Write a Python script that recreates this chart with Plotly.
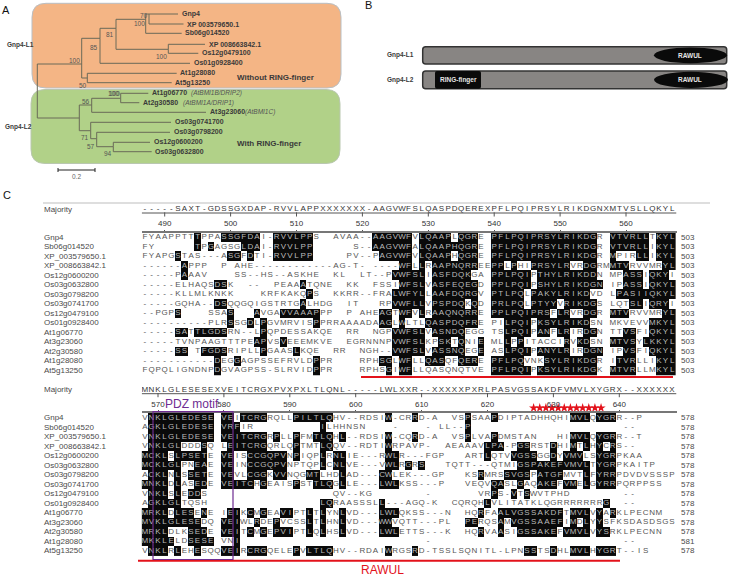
import numpy as np
import plotly.graph_objects as go

W, H = 729, 575

# ---------- DATA ----------
TREE_NODE = ["root","L1","L1a","L1b","L1c","L1d","Gnp4","XP 003579650.1","Sb06g014520","L1e","XP 008663842.1","Os12g0479100",
             "Os01g0928400","L1f","At1g28080","At5g13250","L2","L2a","L2b","At1g06770","At2g30580","At3g23060","L2c","Os03g0741700",
             "L2d","Os03g0798200","L2e","Os12g0600200","Os03g0632800"]
TREE_PARENT = [None,"root","L1","L1a","L1b","L1c","L1d","L1d","L1c","L1b","L1e","L1e",
               "L1a","L1","L1f","L1f","root","L2","L2a","L2b","L2b","L2a","L2","L2c",
               "L2c","L2d","L2d","L2e","L2e"]
TREE_X = [37.3,81.7,100,116,145.7,149,178,183.5,181.7,168.3,205,198.3,
          190,87.3,176.7,171.7,79.3,91.7,120.7,148.3,139.3,206,90.7,171,
          96.7,170,113.3,150,151.7]
TREE_Y = [88,64,38.3,28.3,19.3,14,14,24,33.3,49.3,44.3,53.3,
          63.3,78,73.3,82.7,118,105,98.3,93.3,102.7,112.3,130.7,122.3,
          138.7,132.3,146.7,142.3,151.7]
BOOTSTRAP = ["70","100","81","85","100","100","100","50","100","56","71","57","94"]
BOOT_X = [144,139,110,94,161,74,113.5,82.5,114,86,85,90.5,107.5]
BOOT_Y = [15.5,23,34,47,56,60.5,93.5,85,93.5,101.5,137.5,146.5,153.5]
LEAF_OFFSET_LABELS = {"At1g06770":"(AtBMI1B/DRIP2)","At2g30580":"(AtBMI1A/DRIP1)","At3g23060":"(AtBMI1C)"}

PROTEINS = ["Gnp4-L1","Gnp4-L2"]
PROTEIN_START = [422.7,422.7]
PROTEIN_END = [726.7,726.7]
PROTEIN_TOP = [46.7,71]
PROTEIN_BOTTOM = [64,88.7]
RAWUL_START = [654,654]
RAWUL_END = [727,728]
RING_START = 435
RING_END = 481

NAMES = ["Gnp4","Sb06g014520","XP_003579650.1","XP_008663842.1","Os12g0600200","Os03g0632800","Os03g0798200",
         "Os03g0741700","Os12g0479100","Os01g0928400","At1g06770","At3g23060","At2g30580","At1g28080","At5g13250"]
MAJORITY_1 = "-----SAXT-GDSSGXDAP-RVVLAPPXXXXXXX--AAGVWFSLQASPDQEREXPFLPQIPRSYLRIKDGNXMTVSLLQKYL"[:35] + "AAGVWFSLQASPDQEREXPFLPQIPRSYLRIKDGNXMTVSLLQKYL"
MAJORITY_2 = "MNKLGLESESEXVEITCRGXPVXPXLTLQNL-----LWLXXR--XXXXXPXRLPASVGSSAKDFVMVLXYGRX--XXXXXX"
B1_LEFT = [
 "FYAAPPTTtPPAssgfdaI-rvvlppS  AVAA--",
 "FY      tPgAGSGldaI-rvvlpp      S--",
 "FYAPGsTAS---AsgFdTI-rvvlpp     PV--",
 "------aPPP  P AHE------------AG-T- ",
 "-----PaAAV    SS--HS--ASKHE  KL  LT",
 "-----ELHAQSdsK  --  PEAAaTQNE  KK  ",
 "-----KLLMLKNKK    KRFKAKQpS  KKRR--",
 "-----GQHA--dsQQGQIGSTRTGaLHDG  IT  ",
 "--PGPs    SSAs   aVGAvvaaapPP  P AH",
 "----------PLRsSGdLpGVMRVISpPRRAAAAD",
 "-----saTtlgdsRN--LpQPDESSAKQE  RR  ",
 "-----TVNPAAGTTTPEapVSvEEEMKVE  EGRN",
 "-----ss TfgdsRIPLLpGAASlKQE  RR  NG",
 "-----------dEGgAGPSSEFRVLDpPR    RP",
 "FQPQLIGNDNPdGVAGPSS-SLRVIDpPR    RP"]
B1_RIGHT = [
 "aagvwfVlqaapLqgrE pflpqiprsylrikdgR vtvrllTkyl",
 "aagvwfAlqaaphqgrE pflpqiprsylrikdgR vtvrllIkyl",
 "PagvwfVlqaapHqgrE pflpqiprsylrikdgR mPIRllIkyl",
 "----wfLlRaapnqrrEEppLpHIprsylrVRdgRMmtvRVVMRyl",
 "--PvwfslIasfdqkGA pplpqiPthylrikddN MPassIqkyI",
 "FSSIwfslVasfeqegD pplpqiPshylrikdgn IPassIqkyl",
 "FRAlwfylLaafdqrgV ptlpqLpakylrikdVD Lpasiiqkyl",
 " RPvwfllVpspdqKqD prlpqLptyyVrikdgS LQTslIqryI",
 "EagTwfVlRaaqnqrrE pplpqiprsFlrVRdgR mtvRVVMRyl",
 "AagLwLTLqaspdqfrE PIlpqiPksylrikdSN MKVEVVmkyl",
 "NGPvwfslVasndqEGG TSlpqiPanFlrIRdgN TTvsFIqkyl",
 "NNPvwfslKPskTqNIe MLlPpITACCIrVkdSN mtvsYlkkyl",
 "H--vwfslVassnqEGe ASlpqiPanylrIRdgn IPvsFIqkyl",
 "HsgLwfLLqasQFqerE pflpqVNKsylrikdgR ItvrLLIkyl",
 "HSgIwfLLQASQNQTVE pflpqiPksylrikdgK mtvrLLMkyl"]
B2_LEFT = [
 "Vnklgledese veItcrgRQLLpiltlqHV--R",
 "Agklgledese vrfIR          iLHHNSN",
 "Vnklgledese veitcrgRpLLpFMtlqHl--R",
 "VnklglDDDsQ LeitcrgQRLQpTMTlqQV--R",
 "mcklSlpsetE veISccgqpvNpIQPlRnlIE-",
 "mcklglPNeaE veINccgqpvNPTQPlCnlVE-",
 "AcklNlSsetE veVLcggKvvNQGmtLHDlAD-",
 "mnklDlASedE veitcHgEAISpSTtlqGlLE-",
 "VnklSlEddS                   QV--K",
 "AgklglTQSH                 lqRAASS",
 "mrklDlesEnE IeiKcMgEAviPTlTlYNlVD-",
 "mvklgleseDQ veiWLrDEpVCSSlTlHNlVD-",
 "mrklDLKsedE veiTcMgEpviPTlQlHSlVD-",
 "mkkleLDsese VNi                   ",
 "VnklRlEHeSQQveiRcrgQELEpVltlqHV--R"]
B2_RIGHT = [
 "DSIw-CRrD-A  VSpSAApDIPTADHHQHImvlQygrR--P",
 "    -    - LL--p                       --",
 "DSIw-CQrD-A  VSpLVApDMSTAN   HImvlQygrR--T",
 "DTIwRPAVP-  AEAAAVlpa-PgsRSTdHImTlHyCrS--",
 "--RwlR---FGP   ARTlQTVvgssGGdYvmvLSygrPKAA",
 "--VwlRgRs   TQTT---QTMIgspakefvmvlTygrPKAITP",
 "--cwLEK---GP   KSrMRSsvgsPatgfMVTlFyrrPDVDVSSSP",
 "--lwlKSS---P   VEQVqaSLgAQakeFvmElGyrrPQRPPSS",
 "G        -       VRpS-vTsWVTPHD        --",
 "SLl---AGQ-K  CQRQHlVLITATKLQGRRRRRRRg  --",
 "--lwlQKSS---N  HQrFAalvgssakdfTmvlVyArKLPECNM",
 "--wwVQTT---PL  peRQSaMvgssaaefImDlYySFKSDASDSGS",
 "--lwlETTS---K  HQrVAaSIgssakeFvmvlVysRKLPECNN",
 "         -                             --",
 "DAIwRGSrD-TSSLSQNITL-LPNssTSdHLmvlHygrT--IS"]
END_1 = [503]*15
END_2 = [578,578,578,578,578,578,578,578,578,578,578,578,578,581,578]
TICKS_1 = [490,500,510,520,530,540,550,560]
TICKS_2 = [570,580,590,600,610,620,630,640]
STARS = [627,627.93,628.86,629.79,630.72,631.65,632.58,633.51,634.44,635.37,636.3,637.23]

# ---------- GEOMETRY ----------
ROW_DY = 9.52
fig = go.Figure()
ax_off = dict(visible=False, showgrid=False, zeroline=False, fixedrange=True)
layout = dict(width=W, height=H, autosize=False, margin=dict(l=0, r=0, t=0, b=0), paper_bgcolor="white",
              plot_bgcolor="rgba(0,0,0,0)", showlegend=False, font=dict(family="Liberation Sans", color="#333"),
              xaxis=dict(domain=[0,1], range=[0,W], **ax_off), yaxis=dict(domain=[0,1], range=[H,0], **ax_off))
GREY = "#4a4a4a"
layout["annotations"] = []
layout["shapes"] = []

def block_axes(n, p_ref, px_ref, y0_px, ruler_px, top_px, bot_px, ticks):
    dx = 6.59
    xl, xr = 141.7, 676.5
    layout[f"xaxis{n}"] = dict(domain=[xl/W, xr/W], range=[p_ref+(xl-px_ref)/dx, p_ref+(xr-px_ref)/dx],
        anchor="free", position=1-ruler_px/H, side="top", tickmode="array", tickvals=ticks,
        ticks="outside", ticklen=1, tickwidth=1, tickcolor="#555", showline=True, linecolor="#777", linewidth=2.2,
        showgrid=False, zeroline=False, fixedrange=True, tickfont=dict(size=8, color="#333", family="Liberation Sans"))
    layout[f"yaxis{n}"] = dict(domain=[1-bot_px/H, 1-top_px/H], range=[(bot_px-y0_px)/ROW_DY, (top_px-y0_px)/ROW_DY],
        anchor=f"x{n}", visible=False, showgrid=False, zeroline=False, fixedrange=True)
    return lambda px: (px-y0_px)/ROW_DY

def block(n, p0, majority, left, right, lsplit, rsplit, ends, names, ticks, maj_row):
    xa, ya = f"x{n}", f"y{n}"
    rows = [a.ljust(lsplit)[:lsplit] + b.ljust(rsplit)[:rsplit] for a, b in zip(left, right)]
    ncol = lsplit + rsplit
    pos = [p0+i for i in range(ncol)]
    z = np.full((len(rows), ncol), np.nan)
    tx, ty, tt, sx, sy, st = [], [], [], [], [], []
    for r, s in enumerate(rows):
        for c, ch in enumerate(s):
            if ch == " ":
                continue
            if ch.islower():
                z[r, c] = 1
                sx.append(pos[c]); sy.append(r); st.append(ch.upper())
            else:
                tx.append(pos[c]); ty.append(r); tt.append(ch)
    fig.add_trace(go.Heatmap(x=pos, y=list(range(len(rows))), z=z, xaxis=xa, yaxis=ya, showscale=False, hoverinfo="skip",
                             colorscale=[[0,"#0a0a0a"],[1,"#0a0a0a"]], zmin=0, zmax=1))
    tf = lambda col: dict(size=8, color=col, family="Liberation Sans")
    fig.add_trace(go.Scatter(x=tx, y=ty, text=tt, mode="text", textposition="middle center", textfont=tf("#555"), xaxis=xa, yaxis=ya, hoverinfo="skip"))
    fig.add_trace(go.Scatter(x=sx, y=sy, text=st, mode="text", textposition="middle center", textfont=tf("#bbbbbb"), xaxis=xa, yaxis=ya, hoverinfo="skip"))
    mx = [pos[i] for i, ch in enumerate(majority)]
    fig.add_trace(go.Scatter(x=mx, y=[maj_row]*len(mx), text=list(majority), mode="text", textposition="middle center",
                             textfont=tf("#333"), xaxis=xa, yaxis=ya, hoverinfo="skip"))
    xr = layout[f"xaxis{n}"]["range"]
    ul = maj_row + 0.42
    fig.add_trace(go.Scatter(x=xr, y=[ul, ul], mode="lines", line=dict(color="#555", width=1), xaxis=xa, yaxis=ya, hoverinfo="skip"))
    fig.add_trace(go.Scatter(x=ticks, y=[ul+0.15]*len(ticks), mode="markers", marker=dict(symbol="line-ns", size=3, line=dict(width=1, color="#555")),
                             xaxis=xa, yaxis=ya, hoverinfo="skip"))
    for r, (nm, e) in enumerate(zip(names, ends)):
        layout["annotations"].append(dict(x=42, y=r, xref="x", yref=ya, text=nm, showarrow=False, xanchor="left", yanchor="middle",
                                          font=dict(size=8, color=GREY)))
        layout["annotations"].append(dict(x=688, y=r, xref="x", yref=ya, text=str(e), showarrow=False, xanchor="center", yanchor="middle",
                                          font=dict(size=8, color=GREY)))
    layout["annotations"].append(dict(x=42, y=maj_row, xref="x", yref=ya, text="Majority", showarrow=False, xanchor="left", yanchor="middle",
                                      font=dict(size=8, color=GREY)))

def round_rect(x0, y0, x1, y1, r, **kw):
    path = (f"M{x0+r},{y0} L{x1-r},{y0} Q{x1},{y0} {x1},{y0+r} L{x1},{y1-r} Q{x1},{y1} {x1-r},{y1} "
            f"L{x0+r},{y1} Q{x0},{y1} {x0},{y1-r} L{x0},{y0+r} Q{x0},{y0} {x0+r},{y0} Z")
    layout["shapes"].append(dict(type="path", path=path, xref="x", yref="y", layer=kw.pop("layer", "below"), **kw))

def note(x, y, text, size=7, color="#2b2b2b", bold=False, anchor="left"):
    t = f"<b>{text}</b>" if bold else text
    layout["annotations"].append(dict(x=x, y=y, xref="x", yref="y", text=t, showarrow=False, xanchor=anchor, yanchor="middle",
                                      font=dict(size=size, color=color)))

# ---------- PANEL A ----------
round_rect(32, 3.3, 341, 88, 14, fillcolor="#F4B585", line=dict(color="#B9BFC4", width=1))
round_rect(31, 89.5, 340, 163.5, 14, fillcolor="#B1D188", line=dict(color="#B9C7B0", width=1))
idx = {n: i for i, n in enumerate(TREE_NODE)}
lx, ly = [], []
for n, p, x, y in zip(TREE_NODE, TREE_PARENT, TREE_X, TREE_Y):
    if p is None:
        continue
    px, py = TREE_X[idx[p]], TREE_Y[idx[p]]
    lx += [px, px, x, None]; ly += [py, y, y, None]
fig.add_trace(go.Scatter(x=lx, y=ly, mode="lines", line=dict(color="#6a6a58", width=1), hoverinfo="skip"))
LEAF_NOTE_X = {"At1g06770":189,"At2g30580":181,"At3g23060":243}
for n, x, y in zip(TREE_NODE, TREE_X, TREE_Y):
    if n in TREE_PARENT or n == "root":
        continue
    note(x+1.5, y, n, size=7, color="#3a3a3a", bold=True)
    if n in LEAF_OFFSET_LABELS:
        note(LEAF_NOTE_X[n], y, f"<i>{LEAF_OFFSET_LABELS[n]}</i>", size=6.5, color="#555")
for b, x, y in zip(BOOTSTRAP, BOOT_X, BOOT_Y):
    note(x, y, b, size=6.5, color="#555", anchor="center")
note(235, 77, "Without RING-finger", size=8, color="#3a3a3a", bold=True)
note(235, 143.5, "With RING-finger", size=8, color="#3a3a3a", bold=True)
note(5, 45, "Gnp4-L1", size=6.5, color="#3a3a3a", bold=True)
note(3, 127, "Gnp4-L2", size=6.5, color="#3a3a3a", bold=True)
fig.add_trace(go.Scatter(x=[58,58,None,58,95,None,95,95], y=[168,172,None,170,170,None,168,172], mode="lines",
                         line=dict(color="#222", width=1), hoverinfo="skip"))
note(76, 176.5, "0.2", size=6.5, color="#666", anchor="center")
note(0, 9.5, "A", size=11, color="#111")
note(363, 5, "B", size=11, color="#111")
note(1, 195, "C", size=11, color="#111")

# ---------- PANEL B ----------
for i, nm in enumerate(PROTEINS):
    t, b = PROTEIN_TOP[i], PROTEIN_BOTTOM[i]
    round_rect(PROTEIN_START[i], t, PROTEIN_END[i], b, 3, fillcolor="#888583", line=dict(color="#333", width=1.5))
    layout["shapes"].append(dict(type="circle", xref="x", yref="y", x0=RAWUL_START[i], x1=RAWUL_END[i], y0=t+0.8, y1=b-0.8,
                                 fillcolor="#0a0a0a", line=dict(width=0), layer="below"))
    note((RAWUL_START[i]+RAWUL_END[i])/2-1, (t+b)/2, "RAWUL", size=6.5, color="#e5e5e5", bold=True, anchor="center")
    note(PROTEIN_START[i]-22, (t+b)/2, nm, size=6.5, color="#3a3a3a", bold=True, anchor="center")
round_rect(RING_START, PROTEIN_TOP[1], RING_END, PROTEIN_BOTTOM[1], 2, fillcolor="#0a0a0a", line=dict(width=0))
note((RING_START+RING_END)/2, (PROTEIN_TOP[1]+PROTEIN_BOTTOM[1])/2+0.5, "RING-finger", size=6.5, color="#e5e5e5", bold=True, anchor="center")

# ---------- PANEL C ----------
to1 = block_axes(2, 490, 164.7, 237, 231.7, 198, 381, TICKS_1)
to2 = block_axes(3, 570, 158.0, 417.7, 412.3, 384, 566, TICKS_2)
fig.add_trace(go.Scatter(x=[43,710], y=[203,203], mode="lines", line=dict(color="#bdbdbd", width=1.2), hoverinfo="skip"))
block(2, 487, MAJORITY_1, B1_LEFT, B1_RIGHT, 35, 46, END_1, NAMES, TICKS_1, to1(209))
block(3, 568, MAJORITY_2, B2_LEFT, B2_RIGHT, 34, 47, END_2, NAMES, TICKS_2, to2(389.7))

# red RAWUL marks, PDZ box, stars
layout["shapes"].append(dict(type="line", xref="x", yref="y", x0=361, x1=673, y0=377, y1=377, layer="above", line=dict(color="#E3121B", width=2)))
layout["shapes"].append(dict(type="line", xref="x", yref="y", x0=138, x1=620, y0=560.7, y1=560.7, layer="above", line=dict(color="#E3121B", width=2)))
layout["shapes"].append(dict(type="rect", xref="x", yref="y", x0=153, x1=233, y0=411.7, y1=559.5, layer="above", line=dict(color="#6E2C91", width=1.2)))
fig.add_trace(go.Scatter(x=STARS, y=[to2(408)]*len(STARS), mode="markers", marker=dict(symbol="star", size=7, color="#E3121B"),
                         xaxis="x3", yaxis="y3", hoverinfo="skip"))
note(162.5, 404, "PDZ motif", size=12, color="#6E2C91")
note(382, 570, "RAWUL", size=12, color="#E3121B", anchor="center")

fig.update_layout(**layout)
fig.write_html("out.html", post_script="document.body.style.margin='0';", config=dict(displayModeBar=False))
